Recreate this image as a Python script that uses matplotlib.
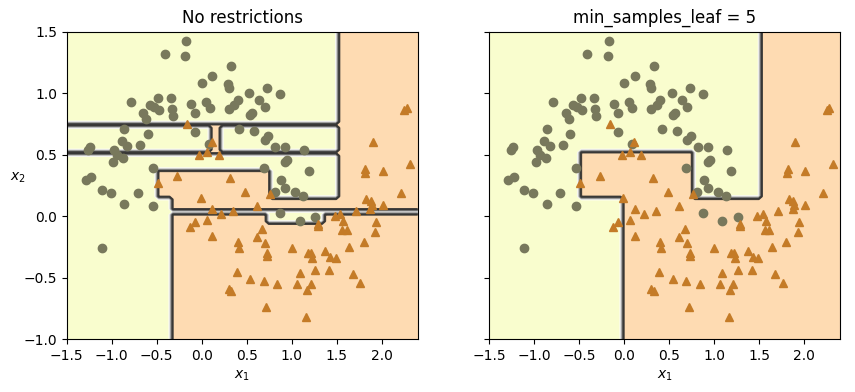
import numpy as np
import matplotlib
matplotlib.use("Agg")
import matplotlib.pyplot as plt

# ---- data ----
circle_x = [-0.17, -0.41, -0.18, 0.33, 0.12, 0.00, 0.29, 0.30, -0.79, -0.48, -0.34, -0.12,
            0.05, 0.09, 0.40, 0.36, -0.57, -0.53, -0.65, -0.62, -0.47, -0.33, -0.32, -0.07,
            0.30, 0.42, -0.86, -0.60, -0.07, -0.89, -0.83, -0.68, 0.08, -1.24, -1.26, -0.97,
            -0.94, -0.87, -0.98, -0.54, -1.23, -1.29, -1.11, -1.01, -0.71, -0.86, -0.54, -1.11,
            0.53, 0.73, 0.87, 0.64, 0.70, 0.56, 0.54, 0.58, 0.74, 0.70, 0.82, 0.93, 1.14, 0.95,
            0.93, 0.69, 1.19, 0.88, 0.93, 0.81, 1.04, 1.13, 0.87, 1.09, 1.26]
circle_y = [1.42, 1.32, 1.30, 1.22, 1.14, 1.08, 1.07, 1.04, 0.93, 0.96, 0.96, 0.91,
            0.93, 0.88, 0.94, 0.90, 0.90, 0.89, 0.84, 0.79, 0.86, 0.87, 0.81, 0.84,
            0.87, 0.71, 0.71, 0.67, 0.68, 0.61, 0.57, 0.58, 0.59, 0.56, 0.54, 0.54,
            0.50, 0.47, 0.44, 0.39, 0.32, 0.29, 0.21, 0.19, 0.19, 0.10, 0.08, -0.26,
            1.00, 1.04, 0.99, 0.94, 0.89, 0.84, 0.82, 0.69, 0.65, 0.62, 0.56, 0.56, 0.54, 0.46,
            0.44, 0.39, 0.37, 0.29, 0.23, 0.20, 0.20, 0.16, 0.03, -0.04, -0.01]

triangle_x = [-0.16, 0.11, -0.03, 0.06, 0.19, -0.27, 0.32, -0.49, -0.01, 0.12, 0.22, 0.35,
              0.06, -0.07, -0.13, 0.12, 0.40, 0.41, 0.39, 0.30, 0.33,
              2.25, 2.28, 1.90, 1.82, 1.81, 2.01, 2.32, 0.48, 0.76, 2.21, 0.61, 1.83, 1.88,
              1.87, 1.89, 2.01, 1.71, 1.48, 1.54, 1.57, 1.29, 1.29, 1.56, 1.61, 1.94, 1.93,
              0.67, 0.61, 0.70, 0.73, 0.73, 1.00, 1.18, 1.22, 1.23, 1.37, 1.43, 1.49, 1.64,
              1.80, 0.54, 0.69, 0.84, 1.09, 1.06, 1.21, 1.17, 1.26, 1.42, 1.68, 1.76, 0.72, 1.16]
triangle_y = [0.75, 0.60, 0.50, 0.52, 0.50, 0.33, 0.31, 0.27, 0.15, 0.06, 0.02, 0.04,
              -0.03, -0.05, -0.09, -0.16, -0.21, -0.26, -0.45, -0.59, -0.61,
              0.86, 0.88, 0.60, 0.38, 0.35, 0.37, 0.42, 0.20, 0.18, 0.19, 0.08, 0.14, 0.12,
              0.06, 0.09, 0.09, 0.04, 0.00, 0.02, -0.04, -0.06, -0.08, -0.11, -0.11, -0.05, -0.13,
              -0.10, -0.17, -0.22, -0.30, -0.32, -0.26, -0.30, -0.30, -0.34, -0.28, -0.33, -0.34, -0.25,
              -0.21, -0.51, -0.53, -0.55, -0.46, -0.55, -0.55, -0.60, -0.44, -0.44, -0.47, -0.54, -0.74, -0.82]

# decision regions of the two trees: (x_min, x_max, y_min, y_max, predicted class), applied in order
regions_no_restrictions = [
    (1.52, 9, -9, 9, 1),
    (-0.34, 0.746, -9, 0.375, 1),
    (-0.49, -0.34, 0.16, 0.375, 1),
    (0.746, 1.52, -9, 0.15, 1),
    (-0.34, 9, 0.02, 0.05, 0),
    (0.72, 1.35, -0.05, 0.05, 0),
    (-9, 1.52, 0.73, 0.755, 1),
    (-9, 1.52, 0.505, 0.525, 1),
    (0.10, 0.215, 0.505, 0.755, 1),
]
regions_min_leaf = [
    (1.52, 9, -9, 9, 1),
    (-0.02, 1.52, -9, 0.15, 1),
    (-0.02, 0.746, -9, 0.52, 1),
    (-0.49, -0.02, 0.15, 0.52, 1),
]

titles = ["No restrictions", "min_samples_leaf = 5"]
axes_limits = [-1.5, 2.4, -1, 1.5]


def predict(regions, X, Y):
    Z = np.zeros_like(X)
    for x0, x1, y0, y1, c in regions:
        m = (X >= x0) & (X < x1) & (Y >= y0) & (Y < y1)
        Z[m] = c
    return Z


def plot_decision_boundary(ax, regions, lims):
    x1, x2 = np.meshgrid(np.linspace(lims[0], lims[1], 100),
                         np.linspace(lims[2], lims[3], 100))
    y_pred = predict(regions, x1, x2)
    ax.contourf(x1, x2, y_pred, alpha=0.3, cmap="Wistia")
    ax.contour(x1, x2, y_pred, cmap="Greys", alpha=0.8)
    ax.plot(circle_x, circle_y, color="#78785c", marker="o", linestyle="none")
    ax.plot(triangle_x, triangle_y, color="#c47b27", marker="^", linestyle="none")
    ax.axis(lims)
    ax.set_xlabel(r"$x_1$")


fig = plt.figure(figsize=(8.55, 3.92), dpi=100)
ax1 = fig.add_axes([0.0780, 0.1344, 0.4105, 0.7852])
ax2 = fig.add_axes([0.5723, 0.1344, 0.4105, 0.7852], sharey=ax1)

plot_decision_boundary(ax1, regions_no_restrictions, axes_limits)
ax1.set_title(titles[0])
ax1.set_ylabel(r"$x_2$", rotation=0)

plot_decision_boundary(ax2, regions_min_leaf, axes_limits)
ax2.set_title(titles[1])
ax2.tick_params(labelleft=False)

fig.savefig("out.png", dpi=100)
